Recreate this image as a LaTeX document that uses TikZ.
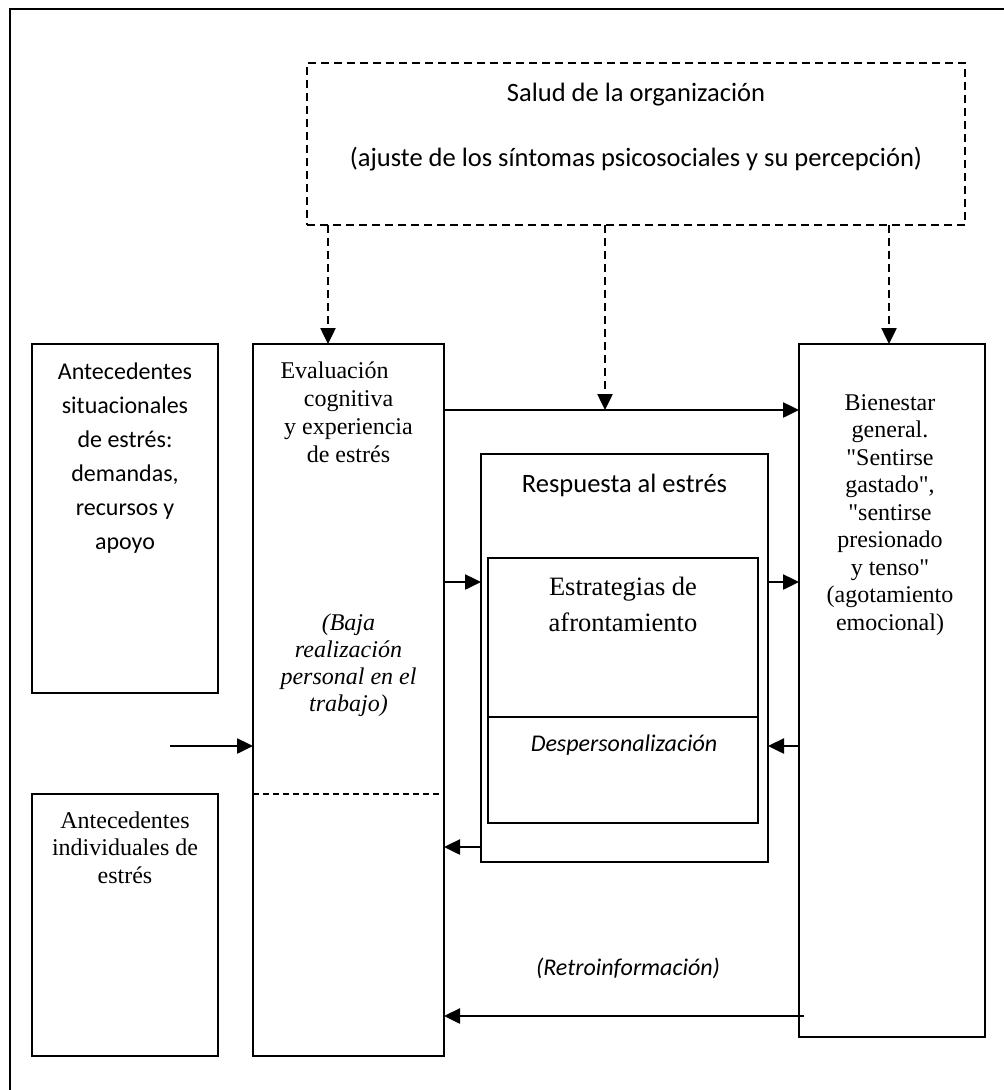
\documentclass[tikz,border=0pt]{standalone}
\usepackage{fontspec}
\setmainfont{Liberation Serif}
\newfontfamily\sansfam{Carlito}
\usetikzlibrary{arrows.meta}
\begin{document}
\begin{tikzpicture}[x=1pt,y=-1pt,
  box/.style={draw, line width=2.2pt, inner sep=0pt, outer sep=0pt, anchor=north west},
  dashbox/.style={box, line width=1.9pt, dash pattern=on 8pt off 5pt},
  arr/.style={line width=2.5pt, -{Triangle[length=16pt,width=15pt]}},
  darr/.style={arr, dash pattern=on 8pt off 5pt},
  txt/.style={inner sep=0pt, anchor=north, align=center},
  one/.style={inner sep=0pt, anchor=base},
  sanssmall/.style={font=\sansfam\fontsize{24}{34}\selectfont},
  sansbig/.style={font=\sansfam\fontsize{26.5}{34}\selectfont},
]
\useasboundingbox (0,0) rectangle (1004,1090);
\fill[white] (0,0) rectangle (1004,1090);

% outer frame
\draw[line width=2.6pt] (10,1090) -- (10,9) -- (1004,9);

% boxes
\node[dashbox, minimum width=658pt, minimum height=162pt] (salud) at (307,63) {};
\node[box, minimum width=186pt, minimum height=349pt] (sit) at (32,344) {};
\node[box, minimum width=186pt, minimum height=262pt] (ind) at (32,794) {};
\node[box, minimum width=191pt, minimum height=712pt] (eval) at (253,344) {};
\node[box, minimum width=287pt, minimum height=408pt] (resp) at (481,454) {};
\node[box, minimum width=270pt, minimum height=265pt] (estr) at (488,558) {};
\node[box, minimum width=186pt, minimum height=693pt] (bien) at (799,344) {};

% internal separators
\draw[line width=2.2pt] (estr.west |- 0,717) -- (estr.east |- 0,717);
\draw[line width=1.6pt, dash pattern=on 6pt off 4pt] (eval.west |- ind.north) -- (eval.east |- ind.north);

% texts
\node[txt, sansbig] (saludtxt) at (636,77.2)
  {\strut Salud de la organización\\[31pt](ajuste de los síntomas psicosociales y su percepción)};
\node[txt, sanssmall] (sittxt) at (125,355.2)
  {\strut Antecedentes\\situacionales\\de estrés:\\demandas,\\recursos y\\apoyo};
\node[txt, font=\fontsize{24}{28}\selectfont] (evaltxt) at (348.5,358.4)
  {\strut Evaluación\hspace*{28pt}\\cognitiva\hspace*{27pt}\\y experiencia\\de estrés};
\node[txt, font=\itshape\fontsize{24}{27}\selectfont] (bajatxt) at (348.5,611.1)
  {\strut (Baja\\realización\\personal en el\\trabajo)};
\node[txt, font=\fontsize{24}{27.5}\selectfont] (bientxt) at (890,390.75)
  {\strut Bienestar\\general.\\\textquotedbl Sentirse\\gastado\textquotedbl,\\\textquotedbl sentirse\\presionado\\y tenso\textquotedbl\\(agotamiento\\emocional)};
\node[one, sansbig] (resptxt) at (624.5,492) {Respuesta al estrés};
\node[txt, font=\fontsize{26.5}{36}\selectfont] (estrtxt) at (623,569.8)
  {\strut Estrategias de\\afrontamiento};
\node[one, font=\sansfam\itshape\fontsize{24}{34}\selectfont] (desptxt) at (624,751) {Despersonalización};
\node[txt, font=\fontsize{24}{27.5}\selectfont] (indtxt) at (125,808.75)
  {\strut Antecedentes\\individuales de\\estrés};
\node[one, font=\sansfam\itshape\fontsize{24}{34}\selectfont] (retrotxt) at (628,975) {(Retroinformación)};

% influences from the organisation
\coordinate (hit) at (605,410);
\draw[darr] (salud.south -| 328,0) -- (eval.north -| 328,0);
\draw[darr] (salud.south -| hit) -- (hit);
\draw[darr] (salud.south -| 889,0) -- (bien.north -| 889,0);

% solid connectors
\draw[arr] (eval.east |- hit) -- (bien.west |- hit);
\draw[arr] (eval.east |- 0,582) -- (resp.west |- 0,582);
\draw[arr] (resp.east |- 0,582) -- (bien.west |- 0,582);
\draw[arr] (bien.west |- 0,746) -- (resp.east |- 0,746);
\draw[arr] (resp.west |- 0,847) -- (eval.east |- 0,847);
\coordinate (ext) at (170,746);
\draw[arr] (ext) -- (eval.west |- ext);
\draw[arr] ([xshift=5pt]bien.west |- 0,1016) -- (eval.east |- 0,1016);
\end{tikzpicture}
\end{document}
